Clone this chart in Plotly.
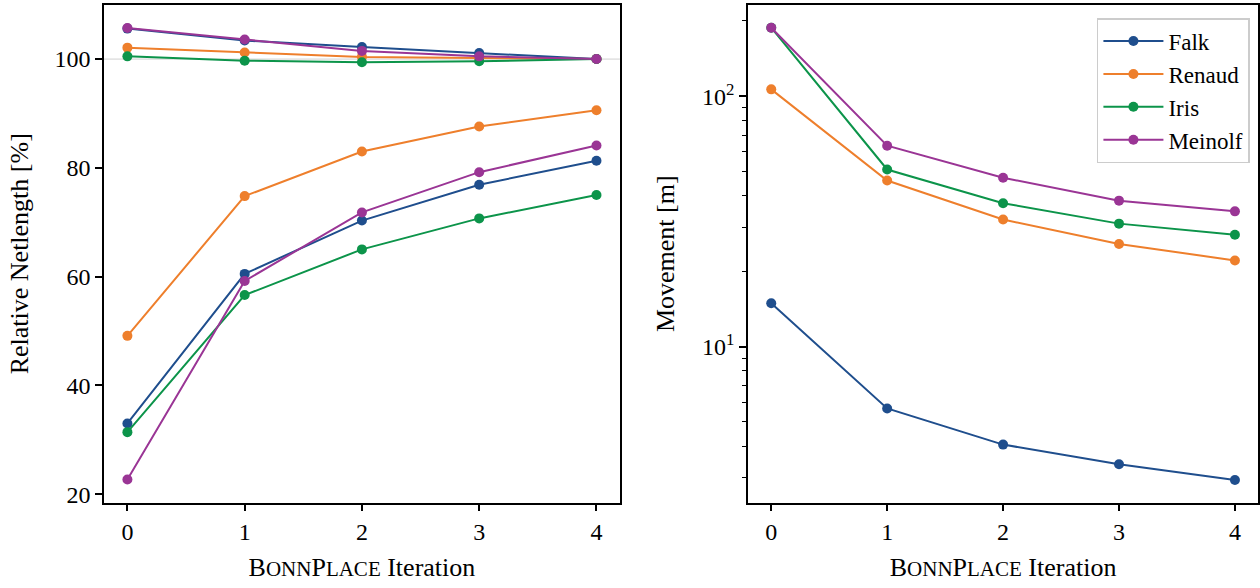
import plotly.graph_objects as go

iterations = [0, 1, 2, 3, 4]
series = ["Falk", "Renaud", "Iris", "Meinolf"]
colors = {"Falk": "#1f4e8d", "Renaud": "#ee7f2c", "Iris": "#0c944a", "Meinolf": "#9a3595"}

# Relative netlength [%] - upper group (one curve per design)
net_upper = {
    "Falk":    [105.6, 103.4, 102.2, 101.1, 100.0],
    "Renaud":  [102.1, 101.2, 100.4, 100.2, 100.0],
    "Iris":    [100.5, 99.7, 99.4, 99.6, 100.0],
    "Meinolf": [105.7, 103.6, 101.5, 100.5, 100.0],
}
# Relative netlength [%] - lower group
net_lower = {
    "Falk":    [33.0, 60.5, 70.3, 76.9, 81.3],
    "Renaud":  [49.1, 74.8, 83.0, 87.6, 90.6],
    "Iris":    [31.4, 56.6, 65.0, 70.7, 75.0],
    "Meinolf": [22.7, 59.2, 71.8, 79.2, 84.1],
}
# Movement [m]
movement = {
    "Falk":    [14.9, 5.66, 4.06, 3.39, 2.93],
    "Renaud":  [106.6, 46.1, 32.2, 25.7, 22.1],
    "Iris":    [188.0, 51.0, 37.4, 31.0, 28.0],
    "Meinolf": [188.0, 63.5, 47.3, 38.3, 34.7],
}

FONT = "'Liberation Serif', 'Times New Roman', serif"
TICK = 24
TITLE = 26
SC = 21

fig = go.Figure()

for name in series:
    c = colors[name]
    common = dict(mode="lines+markers", line=dict(color=c, width=2),
                  marker=dict(color=c, size=10))
    fig.add_trace(go.Scatter(x=iterations, y=net_upper[name], xaxis="x", yaxis="y",
                             showlegend=False, name=name, **common))
    fig.add_trace(go.Scatter(x=iterations, y=net_lower[name], xaxis="x", yaxis="y",
                             showlegend=False, name=name, **common))
for name in series:
    c = colors[name]
    fig.add_trace(go.Scatter(x=iterations, y=movement[name], xaxis="x2", yaxis="y2",
                             mode="lines+markers", line=dict(color=c, width=2),
                             marker=dict(color=c, size=10), name=name))

xtitle = (f"B<span style='font-size:{SC}px'>ONN</span>P"
          f"<span style='font-size:{SC}px'>LACE</span> Iteration")

axis_common = dict(showline=True, linecolor="black", linewidth=1.5, mirror=True,
                   ticks="outside", ticklen=7, tickwidth=1.5, tickcolor="black",
                   showgrid=False, zeroline=False,
                   tickfont=dict(family=FONT, size=TICK, color="black"))

fig.update_layout(
    width=1260, height=588,
    margin=dict(l=0, r=0, t=0, b=0),
    paper_bgcolor="white", plot_bgcolor="white",
    font=dict(family=FONT, size=TICK, color="black"),
    xaxis=dict(domain=[0.0825, 0.492], range=[-0.2, 4.2], tickvals=iterations,
               title=dict(text=xtitle, font=dict(family=FONT, size=TITLE), standoff=14),
               anchor="y", **axis_common),
    yaxis=dict(domain=[0.138, 0.9915], range=[18.45, 109.95], tickvals=[20, 40, 60, 80, 100],
               title=dict(text="Relative Netlength [%]", font=dict(family=FONT, size=TITLE), standoff=18),
               anchor="x", **axis_common),
    xaxis2=dict(domain=[0.5937, 0.9985], range=[-0.2, 4.2], tickvals=iterations,
                title=dict(text=xtitle, font=dict(family=FONT, size=TITLE), standoff=14),
                anchor="y2", **axis_common),
    yaxis2=dict(domain=[0.138, 0.9915], type="log", range=[0.377, 2.365],
                tickvals=[10, 100], ticktext=["10<sup>1</sup>", "10<sup>2</sup>"],
                minor=dict(tickvals=[3, 4, 5, 6, 7, 8, 9, 20, 30, 40, 50, 60, 70, 80, 90, 200],
                           ticks="outside", ticklen=4, tickwidth=1.2, tickcolor="black", showgrid=False),
                title=dict(text="Movement [m]", font=dict(family=FONT, size=TITLE), standoff=20),
                anchor="x2", **axis_common),
    legend=dict(x=0.992, y=0.969, xanchor="right", yanchor="top",
                bgcolor="rgba(255,255,255,0.9)", bordercolor="#cccccc", borderwidth=1.5,
                font=dict(family=FONT, size=23, color="black"), tracegroupgap=0, itemwidth=60),
    shapes=[dict(type="line", xref="x domain", yref="y", x0=0, x1=1, y0=100, y1=100,
                 line=dict(color="#d0d0d0", width=1), layer="below")],
)

fig.write_html("out.html", config={"displayModeBar": False},
               post_script="document.body.style.margin='0';")
